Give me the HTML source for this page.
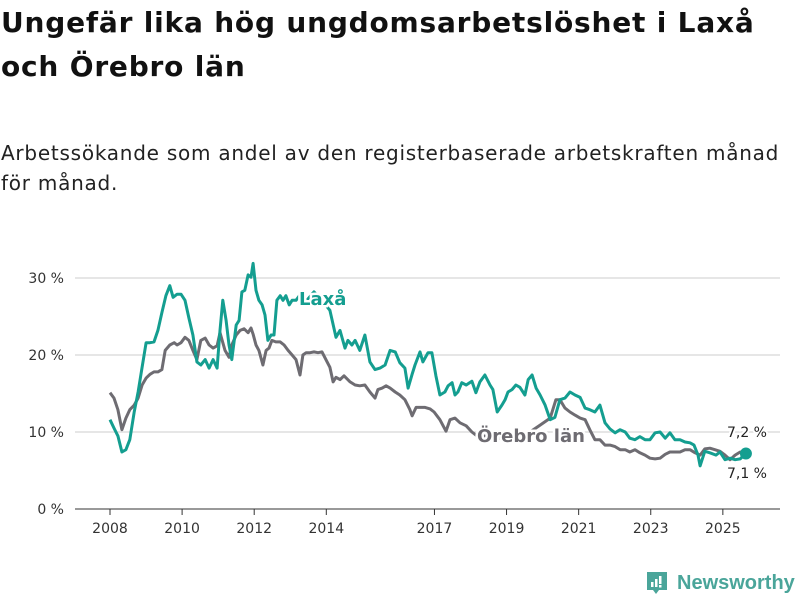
<!DOCTYPE html>
<html><head><meta charset="utf-8"><style>
body{margin:0;background:#fff;width:800px;height:600px;overflow:hidden;font-family:"DejaVu Sans",sans-serif;}
#title{position:absolute;left:1px;top:1px;font-size:28px;font-weight:bold;line-height:44px;color:#111;margin:0;letter-spacing:0.8px;white-space:nowrap}
#sub{position:absolute;left:1px;top:138px;font-size:20px;line-height:30px;color:#222;margin:0;white-space:nowrap;letter-spacing:0.75px}
svg{position:absolute;left:0;top:0}
</style></head><body>
<h1 id="title">Ungefär lika hög ungdomsarbetslöshet i Laxå<br>och Örebro län</h1>
<p id="sub">Arbetssökande som andel av den registerbaserade arbetskraften månad<br>för månad.</p>
<svg id="chart" width="800" height="600"></svg>
<script>
const laxaYears=[2008.00,2008.11,2008.22,2008.33,2008.44,2008.55,2008.67,2008.78,2008.89,2009.00,2009.11,2009.22,2009.33,2009.44,2009.55,2009.66,2009.75,2009.86,2009.97,2010.08,2010.19,2010.30,2010.41,2010.52,2010.64,2010.75,2010.86,2010.97,2011.05,2011.13,2011.22,2011.30,2011.38,2011.50,2011.58,2011.66,2011.74,2011.83,2011.91,2011.97,2012.05,2012.13,2012.22,2012.30,2012.38,2012.47,2012.55,2012.63,2012.72,2012.80,2012.88,2012.97,2013.05,2013.16,2013.27,2013.46,2013.66,2013.88,2014.10,2014.27,2014.38,2014.52,2014.60,2014.71,2014.80,2014.93,2015.07,2015.21,2015.35,2015.49,2015.63,2015.77,2015.91,2016.04,2016.18,2016.27,2016.38,2016.46,2016.60,2016.68,2016.82,2016.93,2017.04,2017.15,2017.29,2017.38,2017.49,2017.57,2017.65,2017.76,2017.88,2018.04,2018.15,2018.26,2018.40,2018.54,2018.62,2018.74,2018.87,2018.96,2019.04,2019.15,2019.26,2019.37,2019.51,2019.60,2019.71,2019.82,2019.93,2020.07,2020.21,2020.34,2020.48,2020.62,2020.76,2020.90,2021.04,2021.18,2021.31,2021.45,2021.59,2021.73,2021.87,2022.01,2022.15,2022.29,2022.42,2022.56,2022.70,2022.84,2022.98,2023.12,2023.26,2023.40,2023.53,2023.67,2023.81,2023.95,2024.09,2024.20,2024.31,2024.37,2024.50,2024.64,2024.81,2024.92,2025.06,2025.20,2025.34,2025.48,2025.64];
const laxaValues=[11.6,10.5,9.5,7.4,7.7,9.0,12.6,15.2,18.4,21.6,21.6,21.7,23.2,25.5,27.7,29.0,27.5,27.9,27.9,27.1,24.8,22.6,19.1,18.7,19.4,18.3,19.4,18.3,23.2,27.1,24.5,21.3,19.4,23.9,24.5,28.2,28.4,30.4,30.1,31.9,28.4,27.1,26.5,25.2,21.9,22.6,22.6,27.1,27.7,27.1,27.7,26.5,27.1,27.1,27.8,27.1,28.2,27.1,25.8,22.3,23.2,20.9,21.9,21.3,21.9,20.6,22.6,19.1,18.1,18.3,18.7,20.6,20.4,19.0,18.3,15.7,17.5,18.7,20.4,19.1,20.3,20.3,17.3,14.8,15.2,16.0,16.4,14.8,15.2,16.4,16.1,16.6,15.1,16.5,17.4,16.1,15.5,12.6,13.5,14.2,15.2,15.5,16.1,15.8,14.8,16.8,17.4,15.7,14.8,13.5,11.6,11.9,14.2,14.4,15.2,14.8,14.5,13.1,12.9,12.6,13.5,11.2,10.4,9.9,10.3,10.0,9.2,9.0,9.4,9.0,9.0,9.9,10.0,9.2,9.9,9.0,9.0,8.7,8.6,8.3,7.0,5.6,7.5,7.3,7.0,7.4,6.4,6.6,6.4,6.5,7.2];
const orebroYears=[2008.00,2008.11,2008.22,2008.33,2008.44,2008.55,2008.67,2008.78,2008.89,2009.00,2009.11,2009.22,2009.33,2009.44,2009.53,2009.66,2009.78,2009.86,2009.97,2010.08,2010.19,2010.30,2010.41,2010.52,2010.64,2010.75,2010.86,2010.97,2011.05,2011.19,2011.30,2011.38,2011.50,2011.61,2011.72,2011.83,2011.91,2011.97,2012.05,2012.13,2012.24,2012.33,2012.41,2012.49,2012.60,2012.72,2012.83,2012.94,2013.05,2013.16,2013.27,2013.35,2013.44,2013.55,2013.66,2013.77,2013.88,2013.99,2014.10,2014.19,2014.27,2014.38,2014.49,2014.66,2014.80,2014.93,2015.07,2015.21,2015.35,2015.43,2015.55,2015.66,2015.77,2015.91,2016.04,2016.18,2016.32,2016.38,2016.49,2016.60,2016.74,2016.88,2016.99,2017.15,2017.32,2017.43,2017.57,2017.71,2017.88,2018.04,2018.15,2018.54,2018.82,2019.10,2019.37,2019.65,2019.93,2020.21,2020.37,2020.48,2020.62,2020.76,2020.90,2021.04,2021.18,2021.31,2021.45,2021.59,2021.73,2021.87,2022.01,2022.15,2022.29,2022.42,2022.56,2022.70,2022.84,2022.98,2023.12,2023.26,2023.40,2023.53,2023.67,2023.81,2023.95,2024.09,2024.23,2024.37,2024.50,2024.64,2024.78,2024.92,2025.06,2025.20,2025.34,2025.48,2025.64];
const orebroValues=[15.1,14.4,12.9,10.3,11.8,12.9,13.5,14.4,16.1,17.0,17.5,17.8,17.8,18.1,20.6,21.3,21.6,21.3,21.6,22.3,21.9,20.6,19.4,21.9,22.2,21.3,20.9,21.2,22.9,20.6,19.7,21.3,22.6,23.2,23.4,22.9,23.5,22.7,21.3,20.6,18.7,20.6,20.9,21.9,21.7,21.7,21.3,20.6,20.0,19.4,17.4,20.0,20.3,20.3,20.4,20.3,20.4,19.4,18.4,16.5,17.1,16.8,17.3,16.5,16.1,16.0,16.1,15.2,14.4,15.5,15.7,16.0,15.7,15.2,14.8,14.2,12.9,12.1,13.2,13.2,13.2,13.0,12.6,11.6,10.1,11.6,11.8,11.2,10.8,10.0,9.6,9.4,9.2,9.0,9.4,10.0,10.9,11.8,14.2,14.2,13.1,12.6,12.2,11.8,11.6,10.3,9.0,9.0,8.3,8.3,8.1,7.7,7.7,7.4,7.7,7.3,7.0,6.6,6.5,6.6,7.1,7.4,7.4,7.4,7.7,7.7,7.3,7.0,7.8,7.9,7.7,7.5,7.0,6.4,7.0,7.4,7.1];
const yTicks=[0,10,20,30];
const yTickLabels=["0 %","10 %","20 %","30 %"];
const xTicks=[2008,2010,2012,2014,2017,2019,2021,2023,2025];

const NS="http://www.w3.org/2000/svg";
const svg=document.getElementById('chart');
const x=v=>110+(v-2008)*36.05;
const y=v=>509-v*7.7;
function mk(tag,attrs,parent){const e=document.createElementNS(NS,tag);for(const k in attrs)e.setAttribute(k,attrs[k]);(parent||svg).appendChild(e);return e;}

yTicks.forEach((t,i)=>{
  const g=mk('line',{x1:75,x2:780,y1:y(t),y2:y(t),stroke:t===0?'#333':'#ddd','stroke-width':t===0?1:1.5});
  
  
  const l=mk('text',{x:64,y:y(t)+5,'text-anchor':'end','font-size':14,fill:'#333'});
  l.textContent=yTickLabels[i];
  
  
});
xTicks.forEach(t=>{
  const tk=mk('line',{x1:x(t),x2:x(t),y1:509,y2:515,stroke:'#333'});
  
  
  const l=mk('text',{x:x(t),y:533,'text-anchor':'middle','font-size':14,fill:'#333'});
  l.textContent=String(t);
  
  
});
function pathOf(xs,vs){return xs.map((v,i)=>(i?'L':'M')+x(v).toFixed(1)+','+y(vs[i]).toFixed(1)).join('');}
const po=mk('path',{d:pathOf(orebroYears,orebroValues),fill:'none',stroke:'#6e6c72','stroke-width':3,'stroke-linejoin':'round'});


const pl=mk('path',{d:pathOf(laxaYears,laxaValues),fill:'none',stroke:'#149e90','stroke-width':3,'stroke-linejoin':'round'});


const li=laxaYears.length-1;
const dot=mk('circle',{cx:x(laxaYears[li]),cy:y(laxaValues[li]),r:6,fill:'#149e90'});


const v1=mk('text',{x:767,y:437,'text-anchor':'end','font-size':14,fill:'#222',stroke:'#fff','stroke-width':4,'paint-order':'stroke'});
v1.textContent=laxaValues[li].toFixed(1).replace('.',',')+' %';


const v2=mk('text',{x:767,y:478,'text-anchor':'end','font-size':14,fill:'#222',stroke:'#fff','stroke-width':4,'paint-order':'stroke'});
v2.textContent=orebroValues[orebroValues.length-1].toFixed(1).replace('.',',')+' %';


const sl=mk('text',{x:299,y:305,'font-size':18,'font-weight':'bold',fill:'#149e90',stroke:'#fff','stroke-width':5,'paint-order':'stroke'});
sl.textContent='Laxå';


const so=mk('text',{x:477,y:442,'font-size':18,'font-weight':'bold',fill:'#6e6c72',stroke:'#fff','stroke-width':5,'paint-order':'stroke'});
so.textContent='Örebro län';


</script>
<div style="position:absolute;left:645px;top:570px;height:26px;display:flex;align-items:center">
<svg width="24" height="26" style="position:static"><path d="M2 2h20v18h-8l-3 4-3-4H2z" fill="#4aa59a"/><rect x="6" y="12" width="2.5" height="5" fill="#fff"/><rect x="10" y="9" width="2.5" height="8" fill="#fff"/><rect x="14" y="6" width="2.5" height="8" fill="#fff"/><rect x="14" y="15" width="2.5" height="2.5" fill="#fff"/></svg>
<span style="margin-left:8px;font-family:'Liberation Sans',sans-serif;font-size:20px;color:#4aa59a;font-weight:bold">Newsworthy</span>
</div>
</body></html>
